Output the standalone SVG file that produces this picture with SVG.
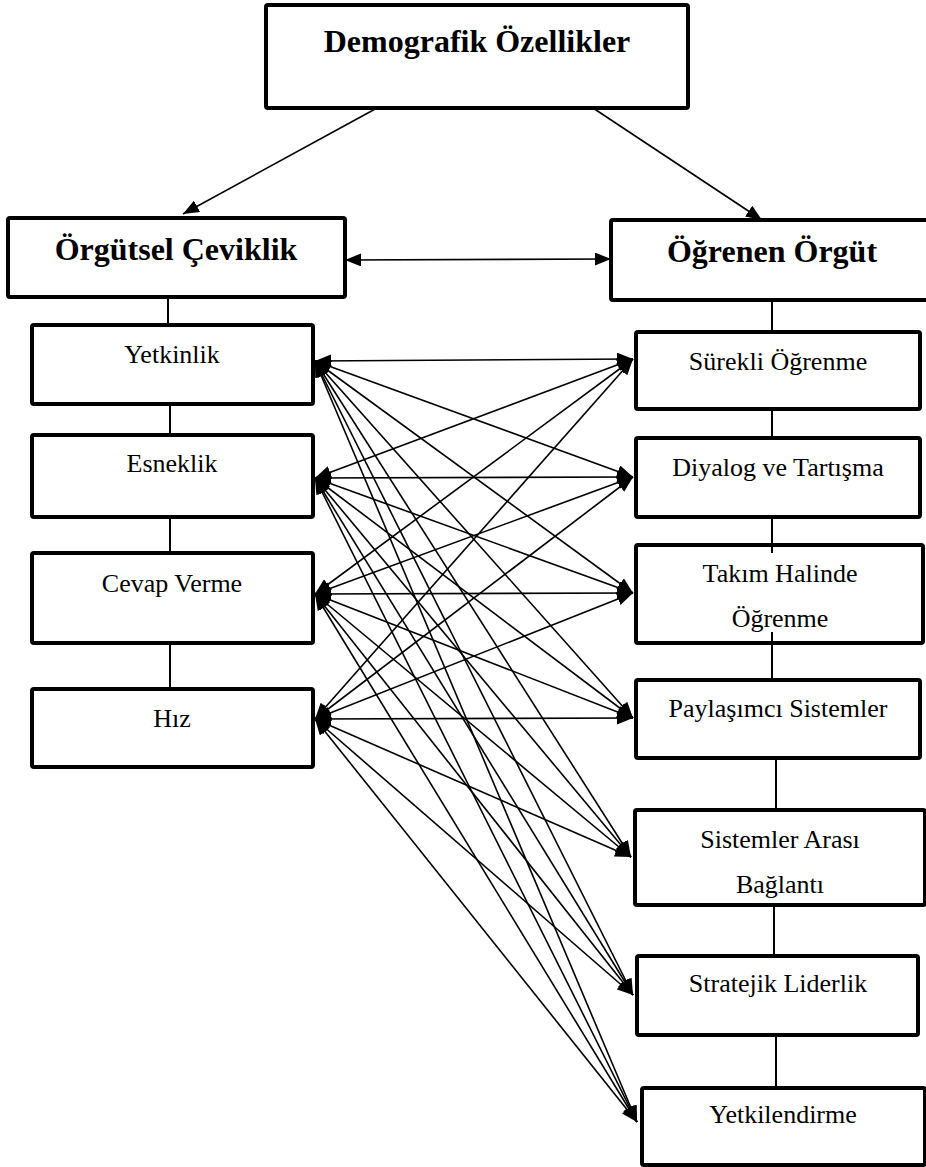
<svg xmlns="http://www.w3.org/2000/svg" width="926" height="1167" viewBox="0 0 926 1167">
<style>
.box{fill:#fff;stroke:#000;stroke-width:4}
.t{font-family:"Liberation Serif","Times New Roman",serif;font-size:26px;fill:#000;text-anchor:middle}
.h{font-family:"Liberation Serif","Times New Roman",serif;font-size:32px;font-weight:bold;fill:#000;text-anchor:middle}
.ln{stroke:#000;stroke-width:2;fill:none}
.ar{stroke:#000;stroke-width:1.6;fill:none;marker-start:url(#ah);marker-end:url(#ah)}
.a1{stroke:#000;stroke-width:1.6;fill:none;marker-end:url(#ah)}
</style>
<defs>
<marker id="ah" viewBox="0 0 16 13" refX="16" refY="6.5" markerWidth="16" markerHeight="13" markerUnits="userSpaceOnUse" orient="auto-start-reverse">
<path d="M0,0 L16,6.5 L0,13 z" fill="#000"/>
</marker>
</defs>
<rect width="926" height="1167" fill="#fff"/>
<g id="connectors">
<line class="a1" x1="377" y1="108" x2="183" y2="214"/>
<line class="a1" x1="593" y1="108" x2="762" y2="220"/>
<line class="ar" x1="345" y1="260" x2="611" y2="259"/>
<line class="ln" x1="168" y1="297" x2="168" y2="325"/>
<line class="ln" x1="170" y1="404" x2="170" y2="435"/>
<line class="ln" x1="170" y1="517" x2="170" y2="553"/>
<line class="ln" x1="170" y1="643" x2="170" y2="689"/>
<line class="ln" x1="772" y1="300" x2="772" y2="332"/>
<line class="ln" x1="772" y1="409" x2="772" y2="438"/>
<line class="ln" x1="772" y1="517" x2="772" y2="545"/>
<line class="ln" x1="772" y1="643" x2="772" y2="680"/>
<line class="ln" x1="776" y1="758" x2="776" y2="810"/>
<line class="ln" x1="774" y1="905" x2="774" y2="956"/>
<line class="ln" x1="776" y1="1035" x2="776" y2="1088"/>
<!-- Yetkinlik -->
<line class="ar" x1="315" y1="361" x2="633" y2="359"/>
<line class="ar" x1="315" y1="361" x2="633" y2="477"/>
<line class="ar" x1="315" y1="361" x2="633" y2="593"/>
<line class="ar" x1="315" y1="361" x2="633" y2="718"/>
<line class="ar" x1="315" y1="361" x2="631" y2="857"/>
<line class="ar" x1="315" y1="361" x2="633" y2="995"/>
<line class="ar" x1="315" y1="361" x2="637" y2="1122"/>
<!-- Esneklik -->
<line class="ar" x1="315" y1="478" x2="633" y2="359"/>
<line class="ar" x1="315" y1="478" x2="633" y2="477"/>
<line class="ar" x1="315" y1="478" x2="633" y2="593"/>
<line class="ar" x1="315" y1="478" x2="633" y2="718"/>
<line class="ar" x1="315" y1="478" x2="631" y2="857"/>
<line class="ar" x1="315" y1="478" x2="633" y2="995"/>
<line class="ar" x1="315" y1="478" x2="637" y2="1122"/>
<!-- Cevap Verme -->
<line class="ar" x1="315" y1="594" x2="633" y2="359"/>
<line class="ar" x1="315" y1="594" x2="633" y2="477"/>
<line class="ar" x1="315" y1="594" x2="633" y2="593"/>
<line class="ar" x1="315" y1="594" x2="633" y2="718"/>
<line class="ar" x1="315" y1="594" x2="631" y2="857"/>
<line class="ar" x1="315" y1="594" x2="633" y2="995"/>
<line class="ar" x1="315" y1="594" x2="637" y2="1122"/>
<!-- Hiz -->
<line class="ar" x1="315" y1="719" x2="633" y2="359"/>
<line class="ar" x1="315" y1="719" x2="633" y2="477"/>
<line class="ar" x1="315" y1="719" x2="633" y2="593"/>
<line class="ar" x1="315" y1="719" x2="633" y2="718"/>
<line class="ar" x1="315" y1="719" x2="631" y2="857"/>
<line class="ar" x1="315" y1="719" x2="633" y2="995"/>
<line class="ar" x1="315" y1="719" x2="637" y2="1122"/>
</g>
<g id="demografik"><rect class="box" x="266" y="5" width="422" height="103" rx="2"/><text class="h" x="477" y="52">Demografik Özellikler</text></g>
<g id="orgutsel-ceviklik"><rect class="box" x="8" y="218" width="337" height="79" rx="2"/><text class="h" x="176" y="260">Örgütsel Çeviklik</text></g>
<g id="ogrenen-orgut"><rect class="box" x="611" y="220" width="330" height="80" rx="2"/><text class="h" x="772" y="262">Öğrenen Örgüt</text></g>
<g id="yetkinlik"><rect class="box" x="32" y="325" width="281" height="79" rx="2"/><text class="t" x="172" y="363">Yetkinlik</text></g>
<g id="esneklik"><rect class="box" x="32" y="435" width="281" height="82" rx="2"/><text class="t" x="172" y="472">Esneklik</text></g>
<g id="cevap-verme"><rect class="box" x="32" y="553" width="281" height="90" rx="2"/><text class="t" x="172" y="592">Cevap Verme</text></g>
<g id="hiz"><rect class="box" x="32" y="689" width="281" height="78" rx="2"/><text class="t" x="172" y="727">Hız</text></g>
<g id="surekli"><rect class="box" x="636" y="332" width="284" height="77" rx="2"/><text class="t" x="778" y="370">Sürekli Öğrenme</text></g>
<g id="diyalog"><rect class="box" x="636" y="438" width="284" height="79" rx="2"/><text class="t" x="778" y="476">Diyalog ve Tartışma</text></g>
<g id="takim"><rect class="box" x="636" y="545" width="287" height="98" rx="2"/><text class="t" x="780" y="582">Takım Halinde</text><text class="t" x="780" y="627">Öğrenme</text></g>
<line class="ln" x1="772" y1="545" x2="772" y2="553"/>
<line class="ln" x1="772" y1="632" x2="772" y2="643"/>
<g id="paylasimci"><rect class="box" x="636" y="680" width="284" height="78" rx="2"/><text class="t" x="778" y="717">Paylaşımcı Sistemler</text></g>
<g id="sistemler-arasi"><rect class="box" x="635" y="810" width="290" height="95" rx="2"/><text class="t" x="780" y="848">Sistemler Arası</text><text class="t" x="780" y="893">Bağlantı</text></g>
<g id="stratejik"><rect class="box" x="637" y="956" width="281" height="79" rx="2"/><text class="t" x="778" y="992">Stratejik Liderlik</text></g>
<g id="yetkilendirme"><rect class="box" x="642" y="1088" width="283" height="77" rx="2"/><text class="t" x="783" y="1123">Yetkilendirme</text></g>
</svg>
